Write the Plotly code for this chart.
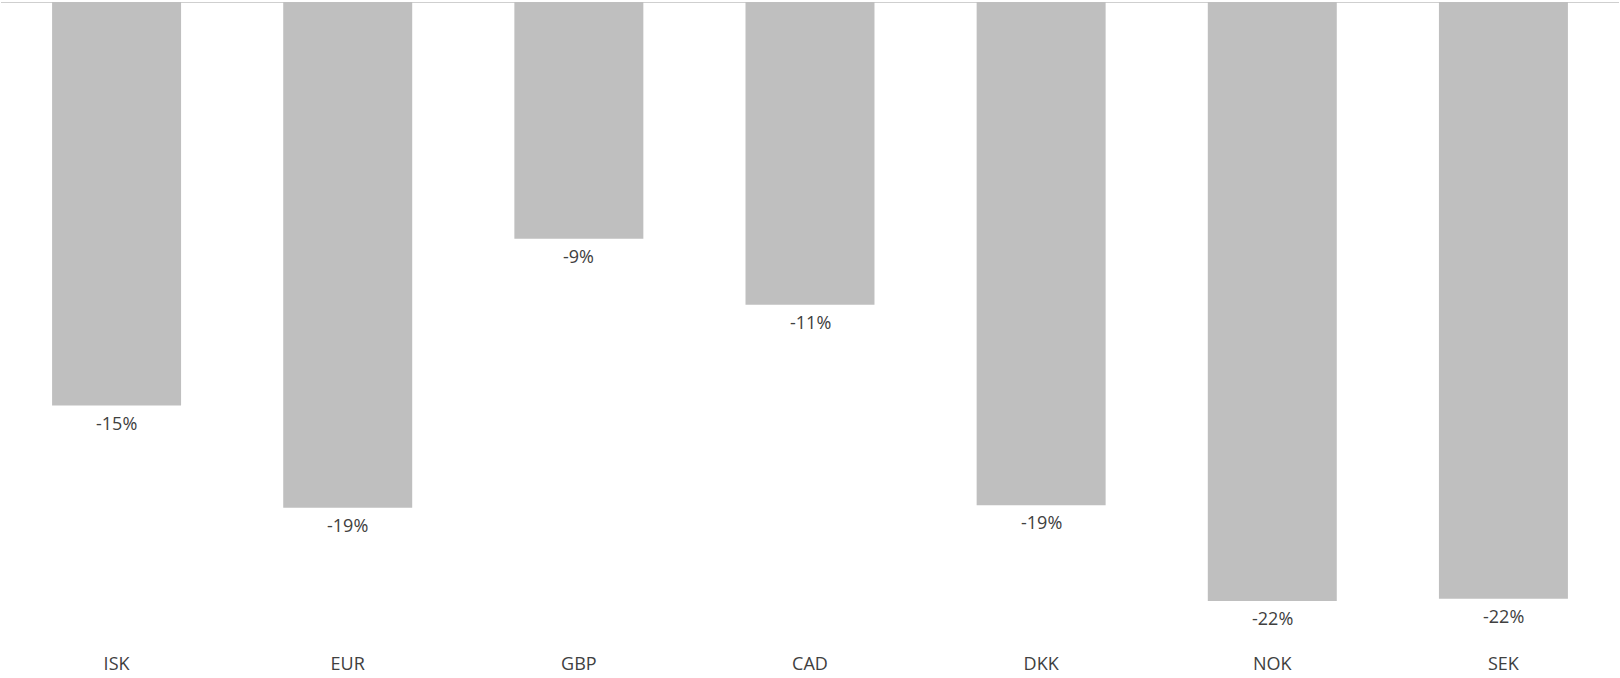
import plotly.graph_objects as go

# Currency change, fraction (negative = depreciation)
currencies = ["ISK", "EUR", "GBP", "CAD", "DKK", "NOK", "SEK"]
changes = [-0.150, -0.188, -0.088, -0.1125, -0.187, -0.2226, -0.2218]

BAR_COLOR = "#bfbfbf"
TEXT_COLOR = "#404040"
FONT = "Open Sans"

fig = go.Figure()
fig.add_trace(go.Bar(
    x=currencies,
    y=changes,
    marker=dict(color=BAR_COLOR, line=dict(width=0)),
    hoverinfo="skip",
))

# Value labels under each bar end
for cur, val in zip(currencies, changes):
    fig.add_annotation(
        x=cur, y=val, xref="x", yref="y",
        text=f"{val:.0%}",
        showarrow=False,
        yanchor="middle",
        yshift=-17,
        font=dict(family=FONT, size=18, color=TEXT_COLOR),
    )

# Zero baseline across the top
fig.add_shape(
    type="line", xref="paper", yref="y",
    x0=0, x1=1, y0=0, y1=0,
    line=dict(color=BAR_COLOR, width=1.5),
    layer="above",
)

fig.update_layout(
    width=1620, height=678,
    margin=dict(l=1, r=1, t=2, b=30),
    paper_bgcolor="white",
    plot_bgcolor="white",
    bargap=0.442,
    showlegend=False,
    font=dict(family=FONT, size=18, color=TEXT_COLOR),
)
fig.update_xaxes(
    showline=False, showgrid=False, zeroline=False, ticks="",
    ticklabelstandoff=3,
    tickfont=dict(family=FONT, size=18, color=TEXT_COLOR),
)
fig.update_yaxes(
    range=[-0.2401, 0],
    visible=False,
)

fig.write_html("out.html")
